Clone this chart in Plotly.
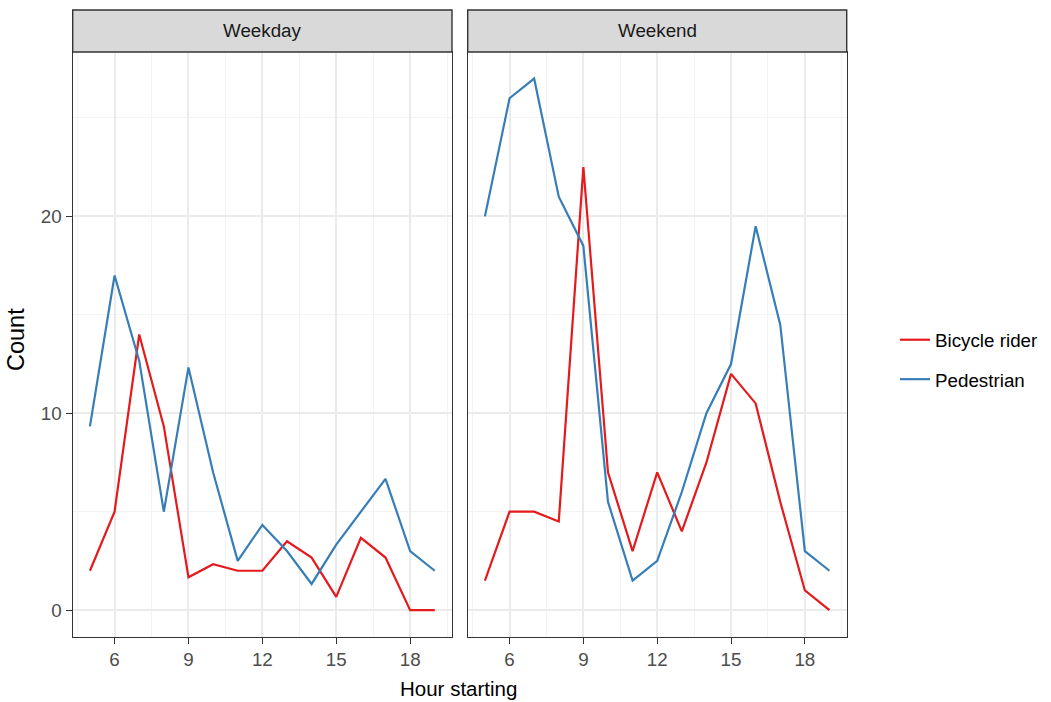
import plotly.graph_objects as go

hours = list(range(5, 20))
panels = ["Weekday", "Weekend"]
series_names = ["Bicycle rider", "Pedestrian"]
colors = {"Bicycle rider": "#E41A1C", "Pedestrian": "#377EB8"}

weekday_bicycle = [2, 5, 14, 9.33, 1.67, 2.33, 2, 2, 3.5, 2.67, 0.67, 3.67, 2.67, 0, 0]
weekday_pedestrian = [9.33, 17, 12.67, 5, 12.33, 7, 2.5, 4.33, 3, 1.33, 3.33, 5, 6.67, 3, 2]
weekend_bicycle = [1.5, 5, 5, 4.5, 22.5, 7, 3, 7, 4, 7.5, 12, 10.5, 5.5, 1, 0]
weekend_pedestrian = [20, 26, 27, 21, 18.5, 5.5, 1.5, 2.5, 6, 10, 12.5, 19.5, 14.5, 3, 2]

x_ticks = [6, 9, 12, 15, 18]
y_ticks = [0, 10, 20]

data = {
    "Weekday": {"Bicycle rider": weekday_bicycle, "Pedestrian": weekday_pedestrian},
    "Weekend": {"Bicycle rider": weekend_bicycle, "Pedestrian": weekend_pedestrian},
}

W, H = 1051, 702
FONT = "Liberation Sans, Arial, sans-serif"
SMALL = 18.8
TITLE = 20.5

def px_x(p):
    return p / W

def px_y(p):
    return 1 - p / H

plot_top, plot_bot = 52, 636.7
strip_top = 10
x_doms = [(72.7, 452.0), (467.7, 846.7)]

fig = go.Figure()
for i, panel in enumerate(panels):
    xa = "x" if i == 0 else "x2"
    ya = "y" if i == 0 else "y2"
    for j, s in enumerate(series_names):
        fig.add_trace(go.Scatter(
            x=hours, y=data[panel][s], mode="lines", name=s,
            line=dict(color=colors[s], width=2.2),
            xaxis=xa, yaxis=ya, showlegend=(i == 0),
            legendgroup=s,
        ))

axis_common = dict(
    showline=True, linecolor="#333333", linewidth=1.4, mirror=True,
    gridcolor="#EBEBEB", gridwidth=1.5, zeroline=False,
    tickfont=dict(family=FONT, size=SMALL, color="#4D4D4D"),
)

layout = dict(
    width=W, height=H,
    margin=dict(l=0, r=0, t=0, b=0, autoexpand=False),
    paper_bgcolor="white", plot_bgcolor="white",
    font=dict(family=FONT, color="black"),
    showlegend=True,
    legend=dict(
        x=px_x(895), y=px_y(321), xanchor="left", yanchor="top",
        font=dict(family=FONT, size=SMALL, color="black"),
        tracegroupgap=12, traceorder="grouped",
        bgcolor="rgba(0,0,0,0)", itemwidth=30,
    ),
)

for i in range(2):
    xkey = "xaxis" if i == 0 else "xaxis2"
    ykey = "yaxis" if i == 0 else "yaxis2"
    layout[xkey] = dict(
        axis_common,
        domain=[px_x(x_doms[i][0]), px_x(x_doms[i][1])],
        range=[4.3, 19.7], tickvals=x_ticks, ticktext=[str(t) for t in x_ticks],
        ticks="outside", ticklen=6, tickcolor="#333333", tickwidth=1.4,
        anchor="y" if i == 0 else "y2",
        minor=dict(tickvals=[4.5, 7.5, 10.5, 13.5, 16.5, 19.5], showgrid=True,
                   gridcolor="#F3F3F3", gridwidth=0.9, ticks=""),
    )
    layout[ykey] = dict(
        axis_common,
        domain=[px_y(plot_bot), px_y(plot_top)],
        range=[-1.35, 28.35], tickvals=y_ticks, ticktext=[str(t) for t in y_ticks],
        ticks="outside" if i == 0 else "", ticklen=6, tickcolor="#333333", tickwidth=1.4,
        showticklabels=(i == 0),
        anchor="x" if i == 0 else "x2",
        minor=dict(tickvals=[5, 15, 25], showgrid=True,
                   gridcolor="#F3F3F3", gridwidth=0.9, ticks=""),
    )

fig.update_layout(**layout)

shapes = []
annotations = []
for i, panel in enumerate(panels):
    x0, x1 = x_doms[i]
    shapes.append(dict(
        type="rect", xref="paper", yref="paper",
        x0=px_x(x0), x1=px_x(x1), y0=px_y(plot_top), y1=px_y(strip_top),
        fillcolor="#D9D9D9", line=dict(color="#333333", width=1.4), layer="above",
    ))
    annotations.append(dict(
        xref="paper", yref="paper", x=px_x((x0 + x1) / 2), y=px_y((plot_top + strip_top) / 2),
        text=panel, showarrow=False, xanchor="center", yanchor="middle",
        font=dict(family=FONT, size=SMALL, color="#1A1A1A"),
    ))

annotations.append(dict(
    xref="paper", yref="paper", x=px_x(458.7), y=px_y(688), text="Hour starting",
    showarrow=False, xanchor="center", yanchor="middle",
    font=dict(family=FONT, size=TITLE, color="black"),
))
annotations.append(dict(
    xref="paper", yref="paper", x=px_x(16), y=px_y(340), text="Count",
    showarrow=False, xanchor="center", yanchor="middle", textangle=-90,
    font=dict(family=FONT, size=23.5, color="black"),
))

fig.update_layout(shapes=shapes, annotations=annotations)
fig.write_html("out.html", config={"displayModeBar": False},
               post_script="document.body.style.margin='0';")
